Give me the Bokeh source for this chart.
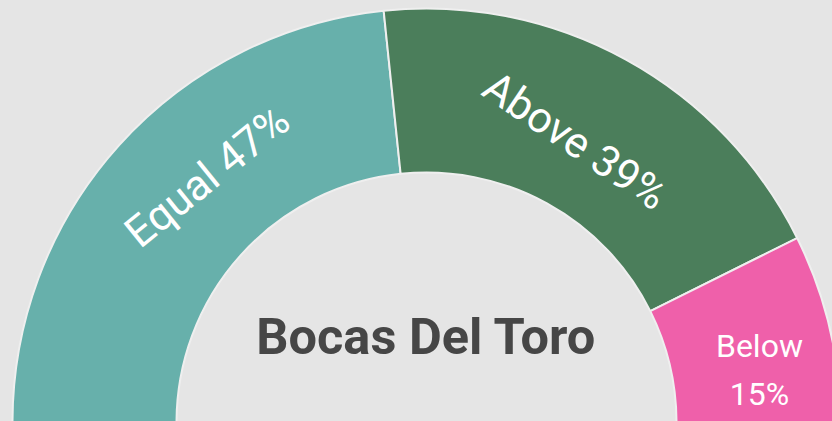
import math
from bokeh.plotting import figure
from bokeh.models import Range1d, ColumnDataSource, GlobalInlineStyleSheet
from bokeh.core.properties import value
from bokeh.embed import file_html
from bokeh.resources import INLINE

# ---- data ----
categories = ["Equal", "Above", "Below"]
values = [46.7, 38.6, 14.7]
percent_labels = ["47%", "39%", "15%"]
colors = ["#67b0ab", "#4b7e5b", "#ef60aa"]
title_text = "Bocas Del Toro"

# ---- layout constants (pixel space of the picture, y up) ----
W, H = 832, 421
BG = "#e5e5e5"
cx, cy = 426, -1          # centre of the half donut
r_in, r_out = 250, 414

# wedge angles: half circle, from 180 deg going clockwise
total = sum(values)
bounds = [180.0]
for v in values:
    bounds.append(bounds[-1] - 180.0 * v / total)
starts = [math.radians(b) for b in bounds[1:]]
ends = [math.radians(b) for b in bounds[:-1]]

src = ColumnDataSource(dict(start=starts, end=ends, color=colors, cat=categories))

p = figure(width=W, height=H, x_range=Range1d(0, W), y_range=Range1d(0, H),
           output_backend="svg", toolbar_location=None, min_border=0,
           background_fill_color=BG, border_fill_color=BG, outline_line_color=None)
p.axis.visible = False
p.grid.visible = False
p.stylesheets = [GlobalInlineStyleSheet(css="body { background-color: #e5e5e5; }")]

p.annular_wedge(x=cx, y=cy, inner_radius=r_in, outer_radius=r_out,
                start_angle="start", end_angle="end", fill_color="color",
                line_color="#efefef", line_width=2, source=src)

# labels: position angle / radius and rotation
label_pos_deg = [131.7, 62.2, 8.9]
label_r = [330, 319, 337]
label_rot_deg = [39, -34, 0]
label_sizes = ["43px", "43px", "32px"]
for i in range(2):
    a = math.radians(label_pos_deg[i])
    lx = cx + label_r[i] * math.cos(a)
    ly = cy + label_r[i] * math.sin(a)
    p.text(x=[lx], y=[ly], text=[categories[i] + " " + percent_labels[i]],
           angle=math.radians(label_rot_deg[i]), text_align="center",
           text_baseline="middle", text_color="white",
           text_font=value("Roboto"), text_font_size=label_sizes[i])

# small slice: two lines
a = math.radians(label_pos_deg[2])
lx = cx + label_r[2] * math.cos(a)
ly = cy + label_r[2] * math.sin(a)
line_gap = 24
for txt, dy in ((categories[2], line_gap), (percent_labels[2], -line_gap)):
    p.text(x=[lx], y=[ly + dy], text=[txt], text_align="center", text_baseline="middle",
           text_color="white", text_font=value("Roboto"), text_font_size=label_sizes[2])

p.text(x=[cx], y=[85.5], text=[title_text], text_align="center", text_baseline="middle",
       text_color="#464646", text_font=value("Roboto"), text_font_style="bold",
       text_font_size="50.5px")

open("out.html", "w").write(file_html(p, INLINE))
